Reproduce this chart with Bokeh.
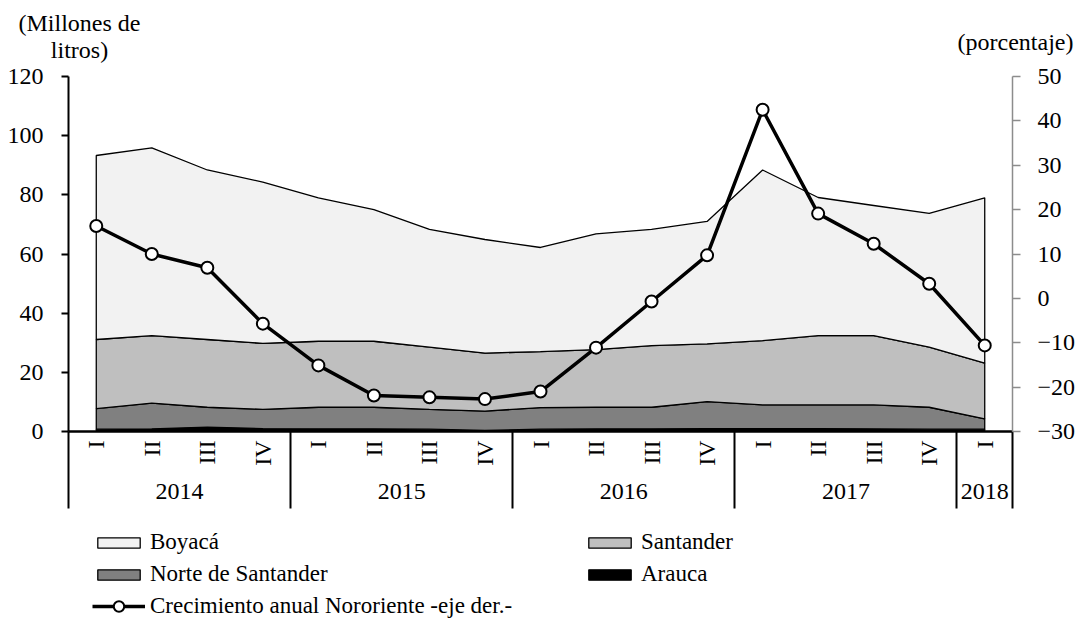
import numpy as np
from bokeh.plotting import figure
from bokeh.layouts import column
from bokeh.models import (Range1d, LinearAxis, FixedTicker, Legend, LegendItem,
                          Label, ColumnDataSource)
from bokeh.embed import file_html
from bokeh.resources import INLINE

# ---------------- data ----------------
years = ["2014", "2015", "2016", "2017", "2018"]
quarters_per_year = [4, 4, 4, 4, 1]
quarter_labels = ["I", "II", "III", "IV", "I", "II", "III", "IV", "I", "II", "III", "IV",
                  "I", "II", "III", "IV", "I"]

boyaca = [62.2, 63.5, 57.3, 54.5, 48.5, 44.5, 39.8, 38.4, 35.2, 39.1, 39.3, 41.4,
          57.7, 46.7, 44.0, 45.2, 55.9]
santander = [23.4, 22.8, 22.9, 22.3, 22.3, 22.3, 21.0, 19.6, 18.9, 19.5, 20.8, 19.5,
             21.7, 23.4, 23.4, 20.3, 18.8]
norte = [6.9, 8.7, 6.7, 6.5, 7.3, 7.3, 6.7, 6.5, 7.3, 7.3, 7.3, 9.1,
         8.0, 8.0, 8.1, 7.4, 3.5]
arauca = [0.8, 0.9, 1.5, 1.0, 0.9, 0.9, 0.8, 0.4, 0.8, 0.9, 0.9, 1.0,
          1.0, 1.0, 0.9, 0.8, 0.8]
crecimiento = [16.3, 10.0, 6.9, -5.7, -15.1, -21.9, -22.3, -22.7, -21.0, -11.1, -0.7, 9.7,
               42.5, 19.1, 12.3, 3.3, -10.6]

series_names = ["Arauca", "Norte de Santander", "Santander", "Boyacá"]
series_vals = [arauca, norte, santander, boyaca]
series_colors = ["#000000", "#808080", "#bfbfbf", "#f2f2f2"]
growth_name = "Crecimiento anual Nororiente -eje der.-"

FONT = "Liberation Serif"
W = 1078

n = len(quarter_labels)
x = np.arange(n) + 0.5


def no_align(f):
    if "frame_align" in f.properties():
        f.frame_align = False


def bare(h):
    f = figure(width=W, height=h, output_backend="svg", toolbar_location=None,
               x_axis_type=None, y_axis_type=None,
               x_range=Range1d(0, W), y_range=Range1d(h, 0))
    f.min_border = 0
    f.min_border_left = f.min_border_right = f.min_border_top = f.min_border_bottom = 0
    f.outline_line_color = None
    f.background_fill_color = "white"
    f.border_fill_color = "white"
    no_align(f)
    return f


# ---------------- top strip: axis titles ----------------
top = bare(63)
for txt, xx, yy, al in [("(Millones de", 79, 22, "center"), ("litros)", 79, 49, "center"),
                        ("(porcentaje)", 1073, 41, "right")]:
    top.add_layout(Label(x=xx, y=yy, text=txt, text_align=al, text_baseline="middle",
                         text_font=FONT, text_font_size="24px", text_color="black"))

# ---------------- main chart ----------------
p = figure(width=W, height=462, output_backend="svg", toolbar_location=None,
           x_axis_type=None, y_axis_type=None,
           x_range=Range1d(0, n), y_range=Range1d(0, 120))
p.min_border_left = 68
p.min_border_right = 63
p.min_border_top = 13
p.min_border_bottom = 94
p.outline_line_color = None
p.background_fill_color = "white"
p.border_fill_color = "white"
no_align(p)
p.extra_y_ranges = {"pct": Range1d(-30, 50)}

lower = np.zeros(n)
for name, vals, col in zip(series_names, series_vals, series_colors):
    upper = lower + np.array(vals)
    xs = list(x) + list(x[::-1])
    ys = list(upper) + list(lower[::-1])
    p.patch(xs, ys, fill_color=col, line_color="black", line_width=1.3)
    lower = upper

src = ColumnDataSource(dict(x=x, y=crecimiento))
p.line("x", "y", source=src, y_range_name="pct", line_color="black", line_width=3.5)
p.scatter("x", "y", source=src, y_range_name="pct", size=12, fill_color="white",
          line_color="black", line_width=2)

yl = LinearAxis(ticker=FixedTicker(ticks=list(range(0, 121, 20))))
yl.axis_line_color = "black"
yl.axis_line_width = 2
yl.major_tick_out = 7
yl.major_tick_in = 0
yl.major_tick_line_width = 2
yl.minor_tick_line_color = None
yl.major_label_standoff = 18
yl.major_label_text_font = FONT
yl.major_label_text_font_size = "24px"
yl.major_label_text_color = "black"
p.add_layout(yl, "left")

yr = LinearAxis(y_range_name="pct", ticker=FixedTicker(ticks=list(range(-30, 51, 10))))
yr.axis_line_color = "#8c8c8c"
yr.axis_line_width = 1.5
yr.major_tick_out = 8
yr.major_tick_in = 0
yr.major_tick_line_color = "#8c8c8c"
yr.major_tick_line_width = 1.5
yr.minor_tick_line_color = None
yr.major_label_standoff = 17
yr.major_label_text_font = FONT
yr.major_label_text_font_size = "24px"
yr.major_label_text_color = "black"
p.add_layout(yr, "right")

bounds = list(np.concatenate([[0], np.cumsum(quarters_per_year)]).astype(float))
xq = LinearAxis(ticker=FixedTicker(ticks=list(x), minor_ticks=bounds))
xq.major_label_overrides = {float(v): lab for v, lab in zip(x, quarter_labels)}
xq.axis_line_color = "black"
xq.axis_line_width = 2.5
xq.major_tick_line_color = None
xq.major_tick_out = 0
xq.minor_tick_line_color = "black"
xq.minor_tick_line_width = 2
xq.minor_tick_out = 77
xq.minor_tick_in = 0
xq.major_label_orientation = np.pi / 2
xq.major_label_standoff = -68
xq.major_label_text_font = FONT
xq.major_label_text_font_size = "24px"
xq.major_label_text_color = "black"
p.add_layout(xq, "below")

centers = [(bounds[i] + bounds[i + 1]) / 2 for i in range(len(years))]
xy = LinearAxis(ticker=FixedTicker(ticks=centers, minor_ticks=[]))
xy.major_label_overrides = {float(c): yv for c, yv in zip(centers, years)}
xy.axis_line_color = None
xy.major_tick_line_color = None
xy.minor_tick_line_color = None
xy.major_tick_out = 0
xy.major_label_standoff = 15
xy.major_label_text_font = FONT
xy.major_label_text_font_size = "24px"
xy.major_label_text_color = "black"
p.add_layout(xy, "below")

# ---------------- legend strip (proxy renderers hold no visible data) ----------------
bot = bare(101)
nan = [float("nan")]
proxies = {}
for name, col in zip(series_names, series_colors):
    proxies[name] = bot.patch(nan, nan, fill_color=col, line_color="black", line_width=1.3)
gl = bot.line(nan, nan, line_color="black", line_width=3.5)
gs = bot.scatter(nan, nan, fill_color="white", line_color="black", line_width=2)


def mk_legend(items, loc, gh):
    lg = Legend(items=items, location=loc, orientation="vertical",
                glyph_width=53, glyph_height=gh, label_height=26, label_standoff=5,
                spacing=6, padding=0, margin=0, border_line_color=None,
                background_fill_alpha=0, label_text_font=FONT,
                label_text_font_size="23px", label_text_color="black")
    bot.add_layout(lg, "center")


mk_legend([LegendItem(label="Boyacá", renderers=[proxies["Boyacá"]]),
           LegendItem(label="Norte de Santander", renderers=[proxies["Norte de Santander"]])],
          (92, 39), 13)
mk_legend([LegendItem(label="Santander", renderers=[proxies["Santander"]]),
           LegendItem(label="Arauca", renderers=[proxies["Arauca"]])],
          (583, 39), 13)
mk_legend([LegendItem(label=growth_name, renderers=[gl, gs])], (92, 7), 26)

layout = column(top, p, bot, spacing=0)
open("out.html", "w").write(file_html(layout, INLINE))
